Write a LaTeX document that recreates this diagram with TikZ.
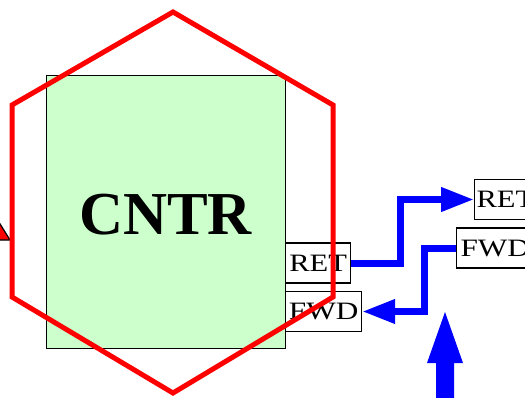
\documentclass[tikz,border=0pt]{standalone}
\usepackage{fontspec}
\setmainfont{Liberation Serif}
\usetikzlibrary{arrows.meta}
\definecolor{lgreen}{RGB}{204,255,204}
\tikzset{
  port/.style={draw=black, line width=1.2pt, fill=white, inner sep=0pt, minimum height=40pt, font=\fontsize{25}{25}\selectfont, anchor=west},
  bluelink/.style={draw=blue, line width=7pt, -{Triangle[length=33pt,width=23pt]}},
}
\begin{document}
\begin{tikzpicture}[x=1pt,y=-1pt]
\useasboundingbox (0,0) rectangle (525,397);
\clip (0,0) rectangle (525,397);
% main block
\node[draw=black, line width=0.8pt, fill=lgreen, minimum width=239pt, minimum height=273pt, inner sep=0pt] (cntr) at (165.5,211.5) {};
\node[font=\fontsize{61}{61}\selectfont\bfseries] (lbl) at (165.5,215) {CNTR};
% ports
\node[port, minimum width=65pt] (retL) at (285,263) {\scalebox{1.22}[1]{RET}};
\node[port, minimum width=76pt] (fwdL) at (285,311.5) {\scalebox{1.25}[1]{FWD}};
\node[port, minimum width=70pt] (retR) at (474,199.5) {\hspace{2pt}\scalebox{1.22}[1]{RET}\hspace*{30pt}};
\node[port, minimum width=80pt] (fwdR) at (456,248) {\hspace{4pt}\scalebox{1.25}[1]{FWD}\hspace*{30pt}};
% connectors
\draw[bluelink] (retL.east) -- ++(49,0) |- (retR.west);
\draw[bluelink] (fwdR.west) -- ++(-32,0) |- (fwdL.east);
% big up arrow
\coordinate (up0) at (445,400);
\coordinate (up1) at (445,312);
\fill[blue] (436,400) -- (436,363) -- (427,363) -- (up1) -- (463,363) -- (454,363) -- (454,400) -- cycle;
% red arrow tip at left
\filldraw[fill=red, draw=black, line width=1.2pt] (-3,219) -- (10,240) -- (-3,240) -- cycle;
% hexagon
\draw[red, line width=5pt, line join=miter] (173,12) -- (333,105) -- (333,297) -- (173,393) -- (12,297) -- (12,105) -- cycle;
\end{tikzpicture}
\end{document}
